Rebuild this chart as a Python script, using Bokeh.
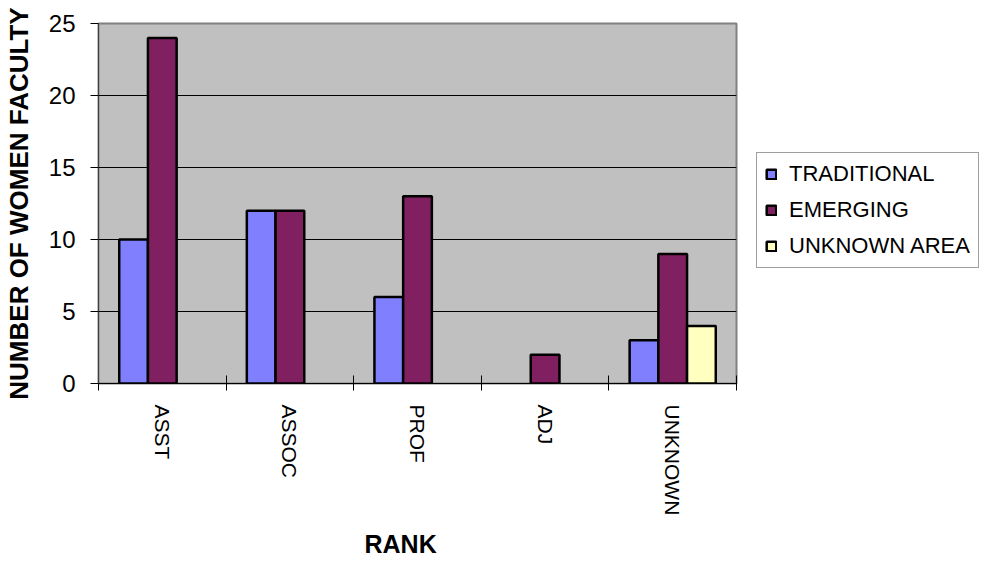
from bokeh.plotting import figure
from bokeh.models import FixedTicker, Legend, LegendItem, Title, ColumnDataSource, Range1d
from bokeh.embed import file_html
from bokeh.resources import INLINE

categories = ["ASST", "ASSOC", "PROF", "ADJ", "UNKNOWN"]
traditional = [10, 12, 6, 0, 3]
emerging = [24, 12, 13, 2, 9]
unknown_area = [0, 0, 0, 0, 4]
y_ticks = [0, 5, 10, 15, 20, 25]

series = [
    ("TRADITIONAL", traditional, "#8080FF", -0.225),
    ("EMERGING", emerging, "#802060", 0.0),
    ("UNKNOWN AREA", unknown_area, "#FFFFC0", 0.225),
]

FONT = "Liberation Sans"

p = figure(frame_width=638, frame_height=360,
           min_border_left=93, min_border_top=23, min_border_right=240, min_border_bottom=10,
           x_range=Range1d(0, 5), y_range=Range1d(0, 25),
           output_backend="svg", toolbar_location=None)
p.background_fill_color = "#C0C0C0"
p.border_fill_color = "white"
p.outline_line_color = "#808080"
p.outline_line_width = 2

items = []
for name, vals, color, off in series:
    xs = [i + 0.5 + off for i, v in enumerate(vals) if v > 0]
    hs = [v for v in vals if v > 0]
    src = ColumnDataSource(dict(x=xs, top=hs))
    r = p.vbar(x="x", top="top", width=0.225, bottom=0, source=src,
               fill_color=color, line_color="black", line_width=2.5)
    items.append(LegendItem(label=name, renderers=[r]))

# grid
p.xgrid.visible = False
p.ygrid.ticker = FixedTicker(ticks=y_ticks)
p.ygrid.grid_line_color = "black"
p.ygrid.grid_line_width = 1

# y axis
p.yaxis.ticker = FixedTicker(ticks=y_ticks)
p.yaxis.axis_label = "NUMBER OF WOMEN FACULTY"
p.yaxis.axis_label_text_font = FONT
p.yaxis.axis_label_text_font_style = "bold"
p.yaxis.axis_label_text_font_size = "26px"
p.yaxis.axis_label_text_color = "black"
p.yaxis.axis_label_standoff = 12
p.yaxis.major_label_text_font = FONT
p.yaxis.major_label_text_font_size = "24px"
p.yaxis.major_label_text_color = "black"
p.yaxis.major_label_standoff = 15
p.yaxis.major_tick_out = 8
p.yaxis.major_tick_in = 0
p.yaxis.minor_tick_line_color = None
p.yaxis.axis_line_color = "#404040"
p.yaxis.major_tick_line_color = "black"

# x axis
p.xaxis.ticker = FixedTicker(ticks=[i + 0.5 for i in range(len(categories))],
                             minor_ticks=list(range(len(categories) + 1)))
p.xaxis.major_label_overrides = {i + 0.5: c for i, c in enumerate(categories)}
p.xaxis.major_label_orientation = "vertical"
p.xaxis.major_label_text_font = FONT
p.xaxis.major_label_text_font_size = "21px"
p.xaxis.major_label_text_color = "black"
p.xaxis.major_label_standoff = 14
p.xaxis.major_tick_out = 0
p.xaxis.major_tick_in = 0
p.xaxis.minor_tick_out = 7
p.xaxis.minor_tick_in = 8
p.xaxis.minor_tick_line_color = "black"
p.xaxis.axis_line_color = "black"

t = Title(text="RANK", align="left", offset=266, text_font=FONT, text_color="black",
          text_font_size="25px", text_font_style="bold", standoff=19)
p.add_layout(t, "below")

legend = Legend(items=items, location=(20, 115))
legend.label_text_font = FONT
legend.label_text_font_size = "22px"
legend.label_text_color = "black"
legend.glyph_width = 12
legend.glyph_height = 12
legend.label_height = 26
legend.spacing = 10
legend.padding = 8
legend.margin = 0
legend.label_standoff = 12
legend.border_line_color = "#404040"
legend.border_line_width = 1
legend.background_fill_color = "white"
legend.background_fill_alpha = 1
p.add_layout(legend, "right")

open("out.html", "w").write(file_html(p, INLINE))
